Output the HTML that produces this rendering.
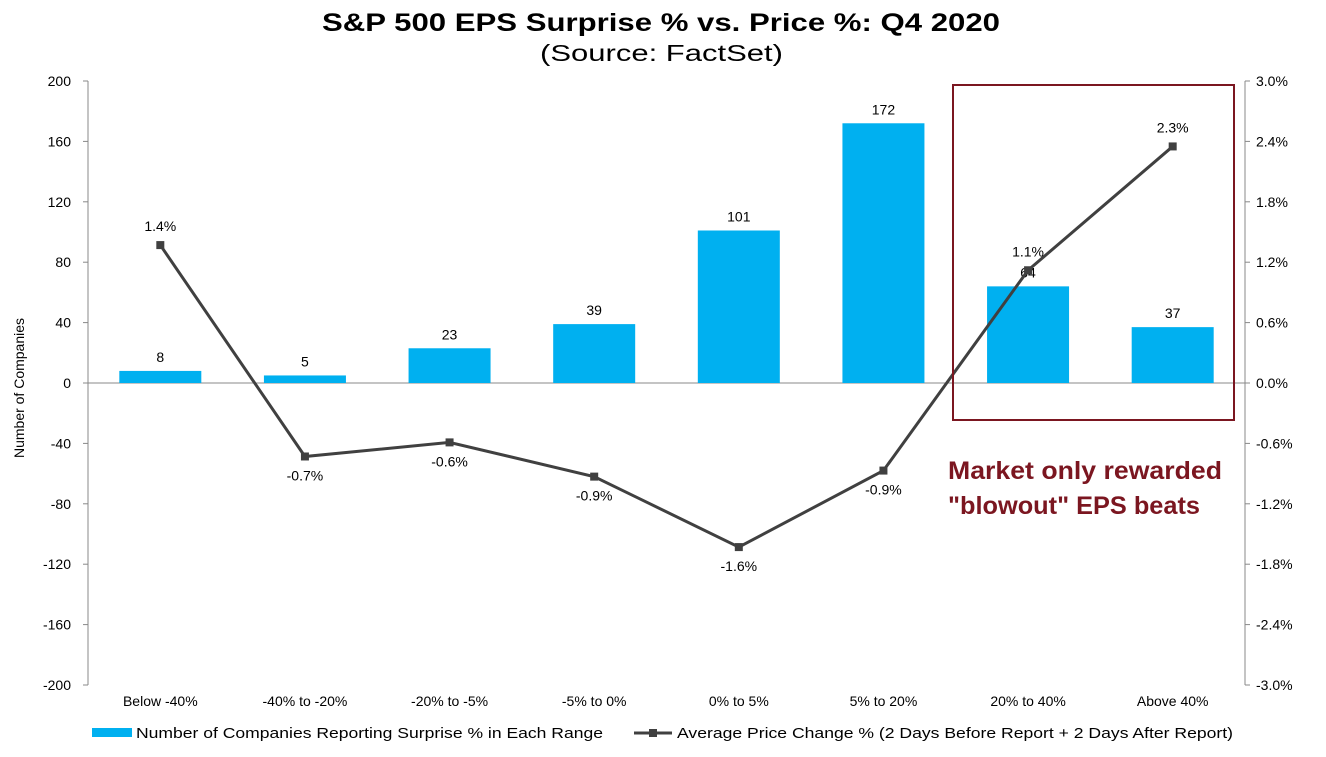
<!DOCTYPE html>
<html><head><meta charset="utf-8"><style>
body{margin:0;background:#fff;font-family:"Liberation Sans",sans-serif;}
svg text{font-family:"Liberation Sans",sans-serif;}
</style></head><body>
<svg id="chart" width="1326" height="752">
<text x="322" y="31" textLength="678" lengthAdjust="spacingAndGlyphs" font-size="25" font-weight="bold" fill="#000">S&amp;P 500 EPS Surprise % vs. Price %: Q4 2020</text>
<text x="540" y="61" textLength="243" lengthAdjust="spacingAndGlyphs" font-size="23" fill="#000">(Source: FactSet)</text>
<text transform="translate(24,388) rotate(-90)" text-anchor="middle" font-size="14" fill="#000">Number of Companies</text>
<g id="axes"></g><g id="bars"></g><g id="line"></g>
<rect x="953" y="85" width="281" height="335" fill="none" stroke="#7b1620" stroke-width="2"/>
<text x="948" y="479" textLength="274" lengthAdjust="spacingAndGlyphs" font-size="25" font-weight="bold" fill="#7b1620">Market only rewarded</text>
<text x="948" y="514" textLength="252" lengthAdjust="spacingAndGlyphs" font-size="25" font-weight="bold" fill="#7b1620">"blowout" EPS beats</text>
<rect x="92" y="728" width="40" height="9" fill="#00b0f0"/>
<text x="136" y="738" textLength="467" lengthAdjust="spacingAndGlyphs" font-size="15" fill="#000">Number of Companies Reporting Surprise % in Each Range</text>
<line x1="634" y1="733" x2="672" y2="733" stroke="#404040" stroke-width="3"/>
<rect x="649" y="729" width="8" height="8" fill="#404040"/>
<text x="677" y="738" textLength="556" lengthAdjust="spacingAndGlyphs" font-size="15" fill="#000">Average Price Change % (2 Days Before Report + 2 Days After Report)</text>
</svg>
<script>
const categories=["Below -40%","-40% to -20%","-20% to -5%","-5% to 0%","0% to 5%","5% to 20%","20% to 40%","Above 40%"];
const counts=[8,5,23,39,101,172,64,37];
const priceChange=[1.37,-0.73,-0.59,-0.93,-1.63,-0.87,1.12,2.35];
const priceLabels=["1.4%","-0.7%","-0.6%","-0.9%","-1.6%","-0.9%","1.1%","2.3%"];
const leftTicks=[200,160,120,80,40,0,-40,-80,-120,-160,-200];
const rightTicks=["3.0%","2.4%","1.8%","1.2%","0.6%","0.0%","-0.6%","-1.2%","-1.8%","-2.4%","-3.0%"];
const NS="http://www.w3.org/2000/svg";
const L=88,R=1245,T=81,B=685;
const yL=v=>T+(200-v)/400*(B-T);
const yR=v=>T+(3-v)/6*(B-T);
const xC=i=>L+(i+0.5)*(R-L)/categories.length;
function mk(p,t,a){const e=document.createElementNS(NS,t);for(const k in a)e.setAttribute(k,a[k]);p.appendChild(e);return e;}
const ax=document.getElementById('axes'),bg=document.getElementById('bars'),lg=document.getElementById('line');
let e=mk(ax,'line',{x1:L,y1:T,x2:L,y2:B,stroke:'#888'});


e=mk(ax,'line',{x1:R,y1:T,x2:R,y2:B,stroke:'#888'});


e=mk(ax,'line',{x1:L,y1:yL(0),x2:R,y2:yL(0),stroke:'#888'});


leftTicks.forEach(v=>{
  let t=mk(ax,'text',{x:71,y:yL(v)+5,'text-anchor':'end','font-size':14});t.textContent=v;
  
  
  mk(ax,'line',{x1:L-5,y1:yL(v),x2:L,y2:yL(v),stroke:'#888'});
});
rightTicks.forEach((s,i)=>{
  const v=3-i*0.6;
  let t=mk(ax,'text',{x:1256,y:yR(v)+5,'font-size':14});t.textContent=s;
  
  
  mk(ax,'line',{x1:R,y1:yR(v),x2:R+5,y2:yR(v),stroke:'#888'});
});
categories.forEach((c,i)=>{
  let t=mk(ax,'text',{x:xC(i),y:706,'text-anchor':'middle','font-size':14});t.textContent=c;
  
  
  const y=yL(counts[i]),y0=yL(0);
  let r=mk(bg,'rect',{x:xC(i)-41,y:Math.min(y,y0),width:82,height:Math.abs(y0-y),fill:'#00b0f0'});
  
  
  let bl=mk(bg,'text',{x:xC(i),y:y-9,'text-anchor':'middle','font-size':14});bl.textContent=counts[i];
  
  
});
let pl=mk(lg,'polyline',{points:priceChange.map((v,i)=>xC(i)+','+yR(v)).join(' '),fill:'none',stroke:'#404040','stroke-width':3});


priceChange.forEach((v,i)=>{
  let m=mk(lg,'rect',{x:xC(i)-4,y:yR(v)-4,width:8,height:8,fill:'#404040'});
  
  
  const above=v>0;
  let t=mk(lg,'text',{x:xC(i),y:above?yR(v)-14:yR(v)+24,'text-anchor':'middle','font-size':14});t.textContent=priceLabels[i];
  
  
});
</script>
</body></html>
